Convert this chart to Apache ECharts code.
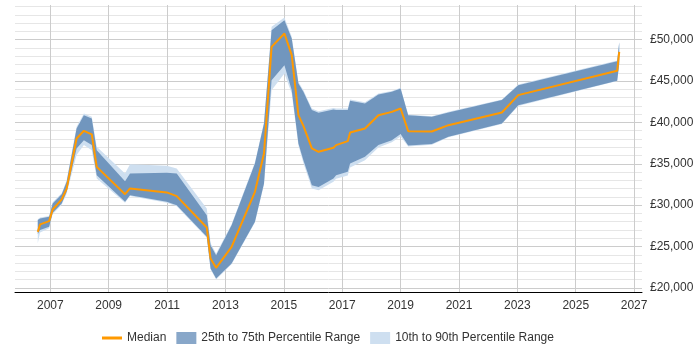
<!DOCTYPE html>
<html>
<head>
<meta charset="utf-8">
<script src="https://cdn.jsdelivr.net/npm/echarts@6/dist/echarts.min.js"></script>
<style>
  html, body { margin: 0; background: #fff; }
  #main { width: 700px; height: 350px; }
</style>
</head>
<body>
<div id="main"></div>
<script>
// salary percentiles over time (decimal years)
const years = [2006.57, 2006.65, 2006.96, 2007.08, 2007.39, 2007.56, 2007.90, 2008.15, 2008.42, 2008.59,
  2009.56, 2009.73, 2010.99, 2011.33, 2012.36, 2012.49, 2012.68, 2013.21, 2014.01, 2014.32,
  2014.58, 2015.02, 2015.27, 2015.50, 2015.67, 2015.96, 2016.19, 2016.70, 2016.79, 2017.19,
  2017.27, 2017.78, 2018.24, 2018.70, 2019.00, 2019.26, 2020.07, 2020.64, 2022.47, 2023.03,
  2026.42, 2026.49];
const p10 = [25400, 26700, 27200, 28900, 30050, 31400, 36050, 37260, 36650, 33230,
  30300, 31100, 30300, 29880, 26050, 22250, 21000, 22850, 27900, 32500,
  43900, 45910, 43500, 37200, 35100, 32020, 31810, 32820, 33200, 33600,
  34560, 35440, 36980, 37600, 38300, 37100, 37300, 38200, 39800, 42000,
  45000, 47000];
const p25 = [26500, 27000, 27380, 29070, 30200, 31610, 36860, 37860, 37260, 33630,
  30400, 31210, 30400, 30000, 26170, 22350, 21130, 22950, 27980, 32620,
  45110, 46920, 43900, 37460, 35440, 32420, 32210, 33230, 33630, 34030,
  35040, 35840, 37260, 37860, 38600, 37200, 37380, 38260, 39880, 42090,
  45050, 47100];
const median = [26770, 27670, 28070, 29480, 30690, 32000, 38060, 38990, 38550, 34630,
  31330, 32020, 31540, 31090, 27300, 23550, 22420, 24960, 31610, 36250,
  49140, 50760, 48140, 40880, 39580, 36860, 36450, 36930, 37260, 37740,
  38790, 39270, 40880, 41280, 41690, 38950, 38910, 39670, 41210, 43300,
  46240, 48540];
const p75 = [28200, 28390, 28590, 30210, 31330, 32820, 39270, 40880, 40480, 36650,
  32900, 33830, 33910, 33830, 28790, 25160, 23950, 27580, 35040, 39880,
  51160, 52370, 50150, 44710, 43700, 41490, 41160, 41570, 41490, 41490,
  42610, 42290, 43390, 43700, 44110, 40880, 40680, 41210, 42700, 44510,
  47410, 49700];
const p90 = [28300, 28500, 28700, 30350, 31450, 33000, 39470, 41090, 40680, 37050,
  33830, 34960, 34750, 34440, 29600, 25400, 24150, 27700, 35200, 40000,
  51560, 52690, 50350, 44900, 43900, 41690, 41350, 41750, 41690, 41690,
  42770, 42450, 43500, 43800, 44200, 40950, 40750, 41280, 42770, 44580,
  47480, 49800];

const xTicks = [2007, 2009, 2011, 2013, 2015, 2017, 2019, 2021, 2023, 2025, 2027];
const yTicks = [20000, 25000, 30000, 35000, 40000, 45000, 50000];

const yLines = [];
for (let v = 20000; v <= 54000; v += 1000) yLines.push(v);

const DARK = '#7196be';
const LIGHT = '#cedff0';
const ORANGE = '#ff9900';

function money(v) {
  return '£' + String(v).replace(/\B(?=(\d{3})+(?!\d))/g, ',');
}

// one filled polygon between lo and hi, drawn through the axis scales
function band(name, lo, hi, color) {
  return {
    name: name,
    type: 'custom',
    silent: true,
    color: color,
    data: years.map((y, i) => [y, lo[i], hi[i]]),
    encode: { x: 0, y: [1, 2] },
    renderItem: function (params, api) {
      if (params.dataIndex !== 0) return null;
      const top = years.map((y, i) => api.coord([y, hi[i]]));
      const bottom = years.map((y, i) => api.coord([y, lo[i]])).reverse();
      return {
        type: 'polygon',
        shape: { points: top.concat(bottom) },
        style: { fill: color }
      };
    }
  };
}

const chart = echarts.init(document.getElementById('main'));
chart.setOption({
  animation: false,
  textStyle: { fontFamily: 'Liberation Sans, Arial, sans-serif' },
  grid: { left: 15, right: 58, top: 5, bottom: 58 },
  legend: {
    left: 97,
    top: 327,
    itemWidth: 20,
    itemHeight: 12,
    itemGap: 10,
    textStyle: { fontSize: 12, color: '#333' },
    data: [
      { name: 'Median', icon: 'path://M0,0 L20,0 L20,3 L0,3 Z', itemStyle: { color: ORANGE } },
      { name: '25th to 75th Percentile Range', icon: 'rect', itemStyle: { color: '#88a7c9' } },
      { name: '10th to 90th Percentile Range', icon: 'rect', itemStyle: { color: LIGHT } }
    ]
  },
  xAxis: {
    type: 'value',
    min: 2005.79,
    max: 2027.27,
    axisLine: { show: true, onZero: false, lineStyle: { color: '#000', width: 1 } },
    axisTick: { show: false, customValues: xTicks },
    axisLabel: { customValues: xTicks, color: '#333', fontSize: 12, margin: 8, formatter: v => String(v) },
    splitLine: { show: true, lineStyle: { color: '#cccccc' } }
  },
  yAxis: {
    type: 'value',
    position: 'right',
    min: 19500,
    max: 54200,
    axisLine: { show: false },
    axisTick: { show: false, customValues: yLines },
    axisLabel: { customValues: yTicks, color: '#333', fontSize: 12, margin: 8, formatter: money },
    splitLine: {
      show: true,
      lineStyle: { color: ['#cccccc', '#e6e6e6', '#e6e6e6', '#e6e6e6', '#e6e6e6'] }
    }
  },
  series: [
    band('10th to 90th Percentile Range', p10, p90, LIGHT),
    band('25th to 75th Percentile Range', p25, p75, DARK),
    {
      name: 'Median',
      type: 'line',
      data: years.map((y, i) => [y, median[i]]),
      symbol: 'none',
      color: ORANGE,
      lineStyle: { color: ORANGE, width: 2 },
      z: 5
    }
  ]
});
</script>
</body>
</html>
